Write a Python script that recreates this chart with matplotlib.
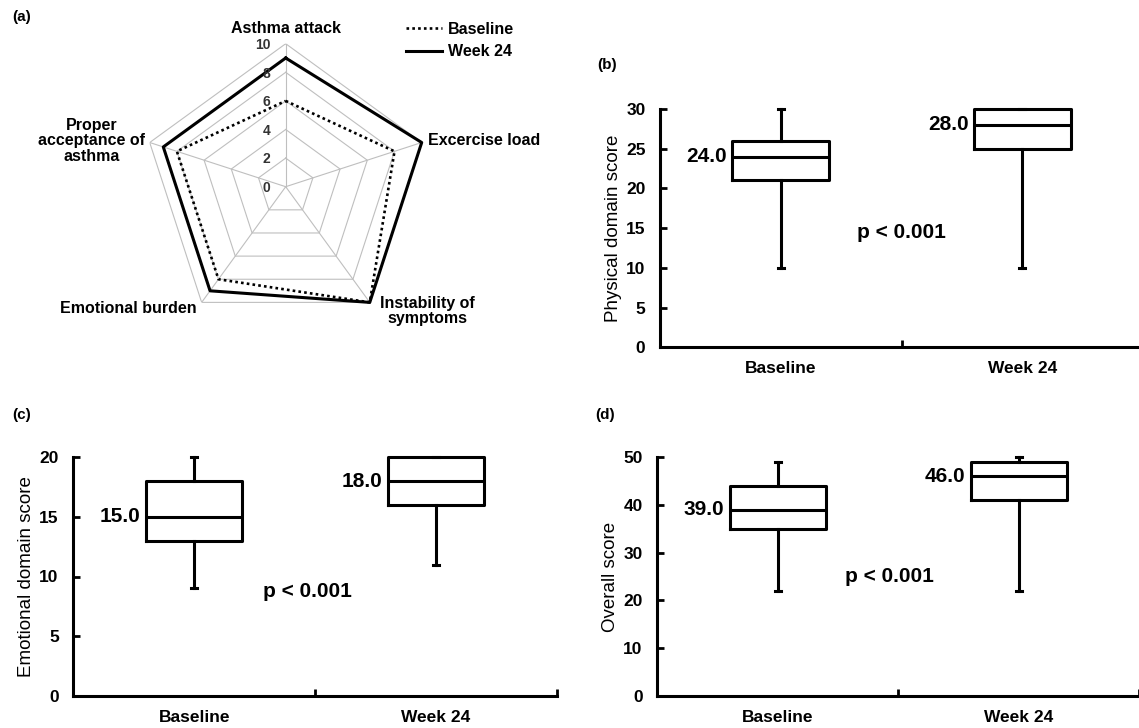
"""Asthma QoL figure: radar of domain scores + three box plots."""
import numpy as np
import matplotlib
matplotlib.use("Agg")
import matplotlib.pyplot as plt

plt.rcParams["font.family"] = ["Liberation Sans", "DejaVu Sans"]

# ---------- data ----------
domains = ["Asthma attack", "Excercise load", "Instability of\nsymptoms",
           "Emotional burden", "Proper\nacceptance of\nasthma"]
radar_baseline = [6, 8, 10, 8, 8]
radar_week24 = [9, 10, 10, 9, 9]
radar_ticks = [0, 2, 4, 6, 8, 10]

groups = ["Baseline", "Week 24"]

phys_min = [10, 10]
phys_q1 = [21, 25]
phys_med = [24, 28]
phys_q3 = [26, 30]
phys_max = [30, 30]

emo_min = [9, 11]
emo_q1 = [13, 16]
emo_med = [15, 18]
emo_q3 = [18, 20]
emo_max = [20, 20]

all_min = [22, 22]
all_q1 = [35, 41]
all_med = [39, 46]
all_q3 = [44, 49]
all_max = [49, 50]

p_text = "p < 0.001"

W, H = 1139, 728
fig = plt.figure(figsize=(W / 100, H / 100), dpi=100)


def fx(px):
    return px / W


def fy(py):
    return 1 - py / H


BOLD = dict(fontweight="bold")

# ---------- (a) radar ----------
cx, cy, R = 285.7, 186.7, 143
ax = fig.add_axes([fx(cx - R), fy(cy + R), 2 * R / W, 2 * R / H], projection="polar")
ax.set_theta_zero_location("N")
ax.set_theta_direction(-1)
theta = np.linspace(0, 2 * np.pi, len(domains), endpoint=False)
tclosed = np.append(theta, theta[0])
for v in radar_ticks[1:]:
    ax.plot(tclosed, [v] * len(tclosed), color="#bfbfbf", lw=0.8, zorder=1)
for t in theta:
    ax.plot([t, t], [0, radar_ticks[-1]], color="#bfbfbf", lw=0.8, zorder=1)
lb, = ax.plot(tclosed, radar_baseline + radar_baseline[:1], color="black",
              lw=1.9, ls=(0, (1, 1.2)), zorder=3, clip_on=False)
lw24, = ax.plot(tclosed, radar_week24 + radar_week24[:1], color="black",
                lw=2.2, zorder=3, clip_on=False)
for v in radar_ticks:
    ax.annotate(str(v), xy=(0, v), xytext=(-11, -1), textcoords="offset points",
                ha="right", va="center", fontsize=10, color="#333333", **BOLD)
ax.set_ylim(0, 10)
ax.set_xticks([])
ax.set_yticks([])
ax.grid(False)
ax.spines["polar"].set_visible(False)
ax.patch.set_alpha(0)

fig.text(fx(cx), fy(28.5), domains[0], ha="center", va="center", fontsize=11.5, **BOLD)
fig.text(fx(428.5), fy(140.5), domains[1], ha="left", va="center", fontsize=11.5, **BOLD)
fig.text(fx(427.5), fy(311), domains[2], ha="center", va="center", fontsize=11.5,
         linespacing=1.05, **BOLD)
fig.text(fx(197), fy(308), domains[3], ha="right", va="center", fontsize=11.5, **BOLD)
fig.text(fx(91.5), fy(141), domains[4], ha="center", va="center", fontsize=11.5,
         linespacing=1.05, **BOLD)

ax.legend([lb, lw24], groups, loc="upper left", bbox_to_anchor=(fx(406), fy(21.5)),
          bbox_transform=fig.transFigure, frameon=False, borderpad=0, borderaxespad=0,
          handlelength=2.25, handletextpad=0.4, labelspacing=0.5,
          prop=dict(size=11.5, weight="bold"))

fig.text(fx(12), fy(17), "(a)", ha="left", va="center", fontsize=11, **BOLD)
fig.text(fx(597), fy(65), "(b)", ha="left", va="center", fontsize=11, **BOLD)
fig.text(fx(12), fy(415), "(c)", ha="left", va="center", fontsize=11, **BOLD)
fig.text(fx(595), fy(415), "(d)", ha="left", va="center", fontsize=11, **BOLD)


# ---------- box plots ----------
def box_panel(rect, mins, q1s, meds, q3s, maxs, ymax, ystep, ylabel, pxy):
    ax = fig.add_axes(rect)
    stats = [dict(med=m, q1=a, q3=b, whislo=lo, whishi=hi, fliers=[])
             for lo, a, m, b, hi in zip(mins, q1s, meds, q3s, maxs)]
    line = dict(color="black", lw=2.2)
    pos = [0.5, 1.5]
    arts = ax.bxp(stats, positions=pos, widths=0.4, capwidths=0.025, showfliers=False,
                  boxprops=line, medianprops=line, whiskerprops=line, capprops=line,
                  manage_ticks=False)
    for k in arts:
        for a in arts[k]:
            a.set_clip_on(False)
    for p, m in zip(pos, meds):
        ax.text(p - 0.2 - 0.022, m, f"{m:.1f}", ha="right", va="center",
                fontsize=15, **BOLD)
    ax.text(pxy[0], pxy[1], p_text, ha="center", va="center", fontsize=15, **BOLD)
    ax.set_xlim(0, 2)
    ax.set_ylim(0, ymax)
    for s in ("top", "right"):
        ax.spines[s].set_visible(False)
    for s in ("left", "bottom"):
        ax.spines[s].set_linewidth(2.2)
    ax.set_xticks([1, 2])
    ax.set_xticklabels([])
    ax.tick_params(axis="x", which="major", direction="in", length=5, width=2)
    ax.set_xticks(pos, minor=True)
    ax.set_xticklabels(groups, minor=True, fontsize=12.5, **BOLD)
    ax.tick_params(axis="x", which="minor", length=0, pad=10)
    ax.set_yticks(np.arange(0, ymax + 1, ystep))
    ax.set_yticklabels([str(v) for v in np.arange(0, ymax + 1, ystep)],
                       fontsize=12.5, **BOLD)
    ax.tick_params(axis="y", direction="in", length=5, width=2, pad=10.5)
    ax.set_ylabel(ylabel, fontsize=13.5, labelpad=3)
    return ax


bh = 238.4 / H
box_panel([fx(660), fy(347.3), 483 / W, bh], phys_min, phys_q1, phys_med, phys_q3,
          phys_max, 30, 5, "Physical domain score", (1.0, 14.4))
box_panel([fx(73.3), fy(695.7), 483.4 / W, bh], emo_min, emo_q1, emo_med, emo_q3,
          emo_max, 20, 5, "Emotional domain score", (0.97, 8.7))
box_panel([fx(657.3), fy(695.7), 482 / W, bh], all_min, all_q1, all_med, all_q3,
          all_max, 50, 10, "Overall score", (0.965, 25.0))

fig.savefig("out.png", dpi=100)
